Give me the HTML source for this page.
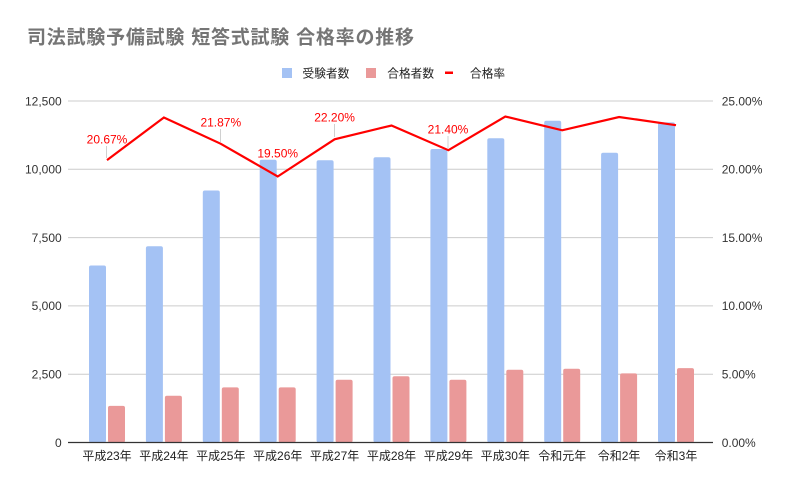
<!DOCTYPE html>
<html>
<head>
<meta charset="utf-8">
<style>
html,body{margin:0;padding:0;background:#fff;}
svg{display:block;}
text{font-family:"Liberation Sans","Noto Sans CJK JP",sans-serif;}
</style>
</head>
<body>
<svg width="787" height="487" viewBox="0 0 787 487" xmlns="http://www.w3.org/2000/svg">
<rect width="787" height="487" fill="#fff"/>
<!-- Title -->
<text x="27" y="43.5" font-size="19" font-weight="bold" fill="#757575" textLength="387" lengthAdjust="spacing">司法試験予備試験 短答式試験 合格率の推移</text>
<!-- Legend -->
<rect x="282" y="68" width="10" height="10" fill="#a4c2f4"/>
<text x="302.5" y="77.3" font-size="11.7" fill="#222">受験者数</text>
<rect x="366" y="68" width="10" height="10" fill="#ea9999"/>
<text x="387.3" y="77.3" font-size="11.7" fill="#222">合格者数</text>
<rect x="445" y="71.5" width="8" height="2.5" fill="#ff0000"/>
<text x="470" y="77.3" font-size="11.7" fill="#222">合格率</text>
<!-- Gridlines -->
<g stroke="#cccccc" stroke-width="1">
<line x1="68" y1="101" x2="713" y2="101"/>
<line x1="68" y1="169.3" x2="713" y2="169.3"/>
<line x1="68" y1="237.6" x2="713" y2="237.6"/>
<line x1="68" y1="305.9" x2="713" y2="305.9"/>
<line x1="68" y1="374.2" x2="713" y2="374.2"/>
</g>
<!-- Left axis labels -->
<g font-size="12" fill="#333" text-anchor="end">
<text x="61.7" y="105.3">12,500</text>
<text x="61.7" y="173.6">10,000</text>
<text x="61.7" y="241.9">7,500</text>
<text x="61.7" y="310.2">5,000</text>
<text x="61.7" y="378.5">2,500</text>
<text x="61.7" y="446.8">0</text>
</g>
<!-- Right axis labels -->
<g font-size="12" fill="#333">
<text x="721.7" y="105.3">25.00%</text>
<text x="721.7" y="173.6">20.00%</text>
<text x="721.7" y="241.9">15.00%</text>
<text x="721.7" y="310.2">10.00%</text>
<text x="721.7" y="378.5">5.00%</text>
<text x="721.7" y="446.8">0.00%</text>
</g>
<!-- Bars -->
<g fill="#a4c2f4">
<rect x="89" y="265.5" width="17" height="177" rx="2"/>
<rect x="145.9" y="246.3" width="17" height="196.2" rx="2"/>
<rect x="202.8" y="190.5" width="17" height="252" rx="2"/>
<rect x="259.7" y="159.8" width="17" height="282.7" rx="2"/>
<rect x="316.6" y="160.2" width="17" height="282.3" rx="2"/>
<rect x="373.5" y="157.2" width="17" height="285.3" rx="2"/>
<rect x="430.4" y="149" width="17" height="293.5" rx="2"/>
<rect x="487.3" y="138.3" width="17" height="304.2" rx="2"/>
<rect x="544.2" y="120.7" width="17" height="321.8" rx="2"/>
<rect x="601.1" y="152.7" width="17" height="289.8" rx="2"/>
<rect x="658" y="122.4" width="17" height="320.1" rx="2"/>
</g>
<g fill="#ea9999">
<rect x="108" y="405.9" width="17" height="36.6" rx="2"/>
<rect x="164.9" y="395.8" width="17" height="46.7" rx="2"/>
<rect x="221.8" y="387.4" width="17" height="55.1" rx="2"/>
<rect x="278.7" y="387.4" width="17" height="55.1" rx="2"/>
<rect x="335.6" y="379.8" width="17" height="62.7" rx="2"/>
<rect x="392.5" y="376.2" width="17" height="66.3" rx="2"/>
<rect x="449.4" y="379.7" width="17" height="62.8" rx="2"/>
<rect x="506.3" y="369.8" width="17" height="72.7" rx="2"/>
<rect x="563.2" y="368.8" width="17" height="73.7" rx="2"/>
<rect x="620.1" y="373.4" width="17" height="69.1" rx="2"/>
<rect x="677" y="368.1" width="17" height="74.4" rx="2"/>
</g>
<!-- Axis baseline -->
<line x1="68" y1="442.5" x2="713" y2="442.5" stroke="#333" stroke-width="1.2"/>
<!-- Leader lines -->
<g stroke="#d0d0d0" stroke-width="1">
<line x1="106.5" y1="146" x2="106.5" y2="158"/>
<line x1="220.5" y1="129" x2="220.5" y2="142"/>
<line x1="334.5" y1="124" x2="334.5" y2="137"/>
<line x1="448" y1="136" x2="448" y2="148"/>
</g>
<!-- Line -->
<polyline fill="none" stroke="#ff0000" stroke-width="2.2" stroke-linejoin="miter"
points="107,160.1 163.9,117.5 220.8,143.8 277.7,176.5 334.6,139.3 391.5,125.5 448.4,150.2 505.3,116.5 562.2,130.3 619.1,117 676,125.2"/>
<!-- Data labels -->
<g font-size="12" fill="#ff0000" text-anchor="middle">
<text x="107" y="143.3">20.67%</text>
<text x="220.8" y="126.5">21.87%</text>
<text x="277.7" y="157.3">19.50%</text>
<text x="334.6" y="121.3">22.20%</text>
<text x="448" y="133.3">21.40%</text>
</g>
<!-- X labels -->
<g font-size="12" fill="#222" text-anchor="middle">
<text x="107" y="460">平成23年</text>
<text x="163.9" y="460">平成24年</text>
<text x="220.8" y="460">平成25年</text>
<text x="277.7" y="460">平成26年</text>
<text x="334.6" y="460">平成27年</text>
<text x="391.5" y="460">平成28年</text>
<text x="448.4" y="460">平成29年</text>
<text x="505.3" y="460">平成30年</text>
<text x="562.2" y="460">令和元年</text>
<text x="619.1" y="460">令和2年</text>
<text x="676" y="460">令和3年</text>
</g>
</svg>
</body>
</html>
